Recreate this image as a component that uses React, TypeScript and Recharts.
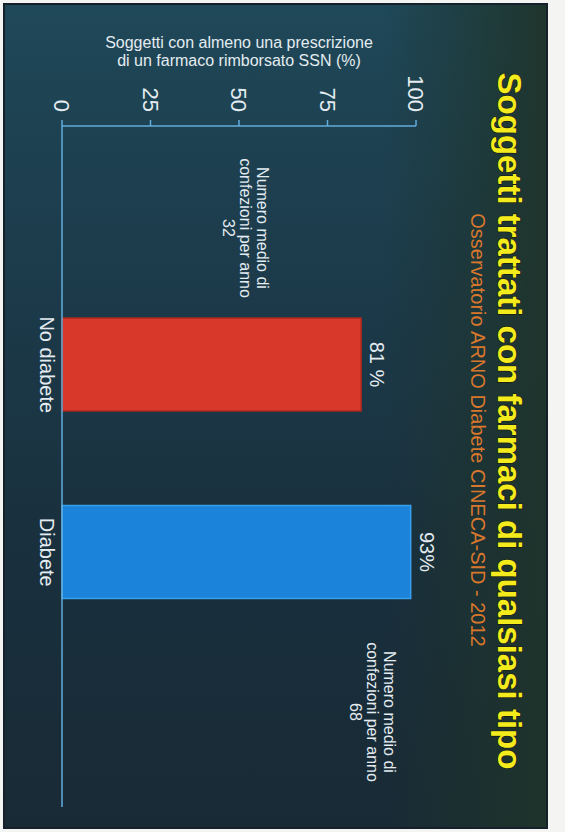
import React from 'react';
import { BarChart, Bar, XAxis, YAxis, Cell, LabelList, Label } from 'recharts';

const categories = ['No diabete', 'Diabete'];
const barValues = [84.5, 98.5];
const valueLabels = ['81 %', '93%'];
const barColors = ['#d8382a', '#1b83d9'];
const barStrokes = ['#a92a1f', '#3a9fec'];
const yTicks = [0, 25, 50, 75, 100];
const yAxisTitle = ['Soggetti con almeno una prescrizione', 'di un farmaco rimborsato SSN (%)'];
const title = 'Soggetti trattati con farmaci di qualsiasi tipo';
const subtitle = 'Osservatorio ARNO Diabete CINECA-SID - 2012';
const noteNoDiabete = ['Numero medio di', 'confezioni per anno', '32'];
const noteDiabete = ['Numero medio di', 'confezioni per anno', '68'];

const data = categories.map((name, i) => ({ name, value: barValues[i], label: valueLabels[i] }));

const FONT = '"Liberation Sans", Arial, sans-serif';
const TEXT = '#e4ecf1';
const AXIS = '#62acdc';

const YTitle = (props: any) => {
  const vb = props.viewBox || {};
  const cy = vb.y + vb.height / 2;
  return (
    <g>
      {yAxisTitle.map((t, i) => (
        <text
          key={i}
          transform={`translate(${48 + i * 18}, ${cy}) rotate(-90)`}
          textAnchor="middle"
          fontSize={16}
          fill={TEXT}
          fontFamily={FONT}
        >
          {t}
        </text>
      ))}
    </g>
  );
};

const Note = ({ lines, x, y }: { lines: string[]; x: number; y: number }) => (
  <text textAnchor="middle" fontSize={16} fill={TEXT} fontFamily={FONT}>
    {lines.map((l, i) => (
      <tspan key={i} x={x} y={y + i * 17}>
        {l}
      </tspan>
    ))}
  </text>
);

export default function App() {
  return (
    <div
      style={{
        position: 'fixed',
        left: 0,
        top: 0,
        width: 565,
        height: 832,
        background: '#f4f4f2',
        overflow: 'hidden',
        fontFamily: FONT,
      }}
    >
      <div
        style={{
          position: 'absolute',
          left: 0,
          top: 0,
          width: 832,
          height: 565,
          transformOrigin: '0 0',
          transform: 'translateX(565px) rotate(90deg)',
        }}
      >
        <div
          style={{
            position: 'absolute',
            left: 3,
            top: 17,
            width: 826,
            height: 545,
            background:
              'linear-gradient(to bottom, rgba(31,52,42,0.95) 0%, rgba(31,52,42,0.5) 14%, rgba(31,52,42,0) 30%), linear-gradient(to right, #1f4858 0%, #1c3a4a 35%, #19303e 65%, #182a35 100%)',
            boxShadow: 'inset 0 0 0 2px #14202a',
          }}
        />
        <div style={{ position: 'absolute', left: 0, top: 0 }}>
          <BarChart
            width={832}
            height={565}
            data={data}
            margin={{ top: 149, right: 25, bottom: 32, left: 0 }}
          >
            <XAxis
              dataKey="name"
              height={30}
              padding={{ left: 145, right: 161 }}
              tickLine={false}
              axisLine={{ stroke: AXIS, strokeWidth: 1.5 }}
              tick={{ fontSize: 20, fill: TEXT, fontFamily: FONT }}
              interval={0}
            />
            <YAxis
              width={126}
              domain={[0, 100]}
              ticks={yTicks}
              tickSize={6}
              tickMargin={8}
              axisLine={{ stroke: AXIS, strokeWidth: 1.5 }}
              tickLine={{ stroke: AXIS, strokeWidth: 1.5 }}
              tick={{ fontSize: 22, fill: TEXT, fontFamily: FONT }}
            >
              <Label content={<YTitle />} />
            </YAxis>
            <Bar dataKey="value" barSize={93} isAnimationActive={false} strokeWidth={1.5}>
              {data.map((d, i) => (
                <Cell key={d.name} fill={barColors[i]} stroke={barStrokes[i]} />
              ))}
              <LabelList
                dataKey="label"
                position="top"
                offset={9}
                fill={TEXT}
                fontSize={20}
                fontFamily={FONT}
              />
            </Bar>
          </BarChart>
        </div>
        <svg
          width={832}
          height={565}
          style={{ position: 'absolute', left: 0, top: 0, pointerEvents: 'none' }}
        >
          <text
            x={421}
            y={67}
            textAnchor="middle"
            fontSize={33}
            fontWeight="bold"
            fill="#f3eb1c"
            stroke="#1a1a10"
            strokeWidth={1.2}
            paintOrder="stroke"
            fontFamily={FONT}
          >
            {title}
          </text>
          <text x={430} y={94} textAnchor="middle" fontSize={20} fill="#d9772c" fontFamily={FONT}>
            {subtitle}
          </text>
          <Note lines={noteNoDiabete} x={228} y={308} />
          <Note lines={noteDiabete} x={712} y={181} />
        </svg>
      </div>
    </div>
  );
}
